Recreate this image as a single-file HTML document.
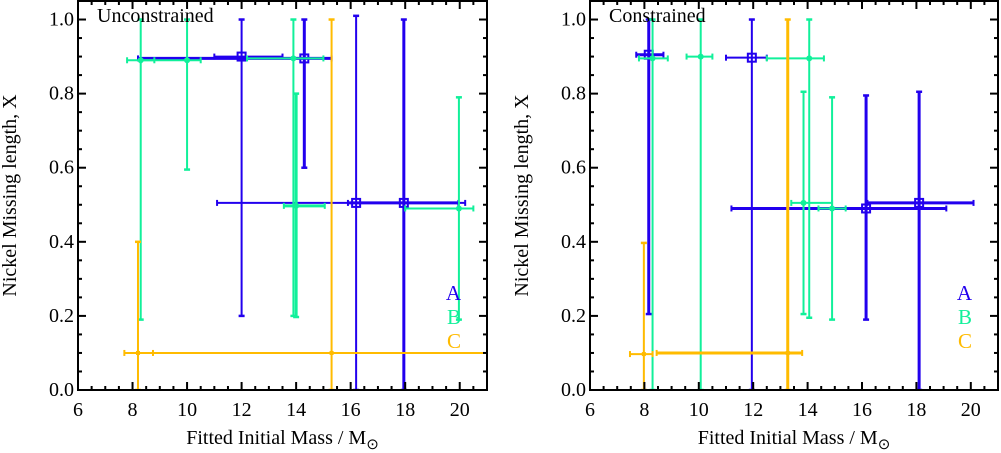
<!DOCTYPE html>
<html><head><meta charset="utf-8"><style>
body{margin:0;background:#fff}
svg{display:block;font-family:"Liberation Serif",serif}
</style></head><body>
<svg id="chart" width="1001" height="453" viewBox="0 0 1001 453"></svg>
<script>
// Data: [x, y, xlo, xhi, ylo, yhi, thick]
const seriesNames = ['A','B','C'];
const seriesColors = ['#2200ee','#11f09a','#ffbb00'];
const leftA = [[12.0,0.90,11.0,13.5,0.20,1.0,0],[14.3,0.895,8.2,15.3,0.60,1.0,1],[16.2,0.505,11.1,20.2,0.0,1.01,0],[17.95,0.505,15.9,19.95,0.0,1.0,1]];
const leftB = [[8.3,0.89,7.8,8.8,0.19,1.0,0],[10.0,0.89,8.3,10.5,0.595,1.0,0],[13.9,0.895,12.2,15.0,0.2,1.0,0],[14.0,0.497,13.55,15.05,0.197,0.8,1],[19.97,0.49,18.0,20.5,0.19,0.79,0]];
const leftC = [[8.2,0.1,7.7,8.75,0.0,0.4,0],[15.3,0.1,8.2,25,0.0,1.0,0]];
const rightA = [[8.16,0.905,7.7,8.7,0.205,1.0,1],[11.95,0.897,11.0,12.5,0.0,1.0,0],[16.15,0.49,11.2,19.1,0.19,0.795,1],[18.1,0.505,16.2,20.1,0.0,0.805,1]];
const rightB = [[8.3,0.895,7.8,8.86,0.0,1.0,0],[10.07,0.90,9.55,10.5,0.0,1.0,0],[13.85,0.505,13.4,14.9,0.205,0.805,0],[14.06,0.895,12.5,14.6,0.195,1.0,0],[14.9,0.49,14.4,15.4,0.19,0.79,0]];
const rightC = [[7.98,0.097,7.47,8.3,0.0,0.397,0],[13.27,0.1,8.45,13.8,0.0,1.0,1]];
const xTicks = [6,8,10,12,14,16,18,20];
const yTicks = [0.0,0.2,0.4,0.6,0.8,1.0];
const xMin=6, xMax=21, yMin=0, yMax=1.05;

const NS='http://www.w3.org/2000/svg';
const svg=document.getElementById('chart');
function mk(tag,attrs,parent,text){const e=document.createElementNS(NS,tag);for(const k in attrs)e.setAttribute(k,attrs[k]);if(text!==undefined)e.textContent=text;(parent||svg).appendChild(e);return e;}

function panel(L,R,T,B,title,sets,name){
  const g=mk('g',{});
  
  
  const X=v=>L+(v-xMin)/(xMax-xMin)*(R-L);
  const Y=v=>B-(v-yMin)/(yMax-yMin)*(B-T);
  const clip='clip-'+name;
  const cp=mk('clipPath',{id:clip},g);mk('rect',{x:L,y:T,width:R-L,height:B-T},cp);
  const dg=mk('g',{'clip-path':'url(#'+clip+')'},g);
  sets.forEach((arr,si)=>{
    const col=seriesColors[si];
    arr.forEach((p,i)=>{
      const [x,y,xl,xh,yl,yh,th]=p;const w=th?3:2;
      const e=mk('g',{},dg);
      
      
      mk('line',{x1:X(xl),x2:X(xh),y1:Y(y),y2:Y(y),stroke:col,'stroke-width':w},e);
      mk('line',{x1:X(x),x2:X(x),y1:Y(yl),y2:Y(yh),stroke:col,'stroke-width':w},e);
      mk('line',{x1:X(xl),x2:X(xl),y1:Y(y)-3,y2:Y(y)+3,stroke:col,'stroke-width':2},e);
      mk('line',{x1:X(xh),x2:X(xh),y1:Y(y)-3,y2:Y(y)+3,stroke:col,'stroke-width':2},e);
      mk('line',{x1:X(x)-3,x2:X(x)+3,y1:Y(yl),y2:Y(yl),stroke:col,'stroke-width':2.5},e);
      mk('line',{x1:X(x)-3,x2:X(x)+3,y1:Y(yh),y2:Y(yh),stroke:col,'stroke-width':2.5},e);
      if(si===0) mk('rect',{x:X(x)-4,y:Y(y)-4,width:8,height:8,fill:'none',stroke:col,'stroke-width':2},e);
      else if(si===1) mk('circle',{cx:X(x),cy:Y(y),r:3,fill:col},e);
      else mk('rect',{x:X(x)-2,y:Y(y)-2,width:4,height:4,fill:col},e);
    });
  });
  const fr=mk('rect',{x:L,y:T,width:R-L,height:B-T,fill:'none',stroke:'#000','stroke-width':2},g);
  
  
  for(let v=6;v<=21.001;v+=0.5){
    const major=Math.abs(v/2-Math.round(v/2))<1e-6;const len=major?8:4;
    mk('line',{x1:X(v),x2:X(v),y1:B,y2:B-len,stroke:'#000','stroke-width':2},g);
    mk('line',{x1:X(v),x2:X(v),y1:T,y2:T+len,stroke:'#000','stroke-width':2},g);
  }
  for(let k=0;k<=21;k++){const v=k*0.05;const major=k%4===0;const len=major?8:4;
    mk('line',{x1:L,x2:L+len,y1:Y(v),y2:Y(v),stroke:'#000','stroke-width':2},g);
    mk('line',{x1:R,x2:R-len,y1:Y(v),y2:Y(v),stroke:'#000','stroke-width':2},g);
  }
  xTicks.forEach(v=>{const t=mk('text',{x:X(v),y:B+26,'text-anchor':'middle','font-size':20},g,String(v));
    
    });
  yTicks.forEach(v=>{const t=mk('text',{x:L-4,y:Y(v)+6,'text-anchor':'end','font-size':20},g,v.toFixed(1));
    
    });
  const xt=mk('text',{x:(L+R)/2,y:444,'text-anchor':'middle','font-size':20},g);
  
  
  xt.appendChild(document.createTextNode('Fitted Initial Mass / M'));
  mk('tspan',{dy:5,'font-size':15},xt,'\u2299');
  const yc=(T+B)/2;
  const yt=mk('text',{x:L-62,y:yc,'text-anchor':'middle','font-size':20,transform:'rotate(-90 '+(L-62)+' '+yc+')'},g,'Nickel Missing length, X');
  
  
  const tt=mk('text',{x:L+19,y:T+21,'font-size':20},g,title);
  
  
  seriesNames.forEach((n,i)=>{const t=mk('text',{x:R-26,y:300+i*24,'text-anchor':'end','font-size':21,fill:seriesColors[i]},g,n);
    
    });
}
panel(78,487,1,390,'Unconstrained',[leftA,leftB,leftC],'left-panel');
panel(590,998,1,390,'Constrained',[rightA,rightB,rightC],'right-panel');
</script>
</body></html>
